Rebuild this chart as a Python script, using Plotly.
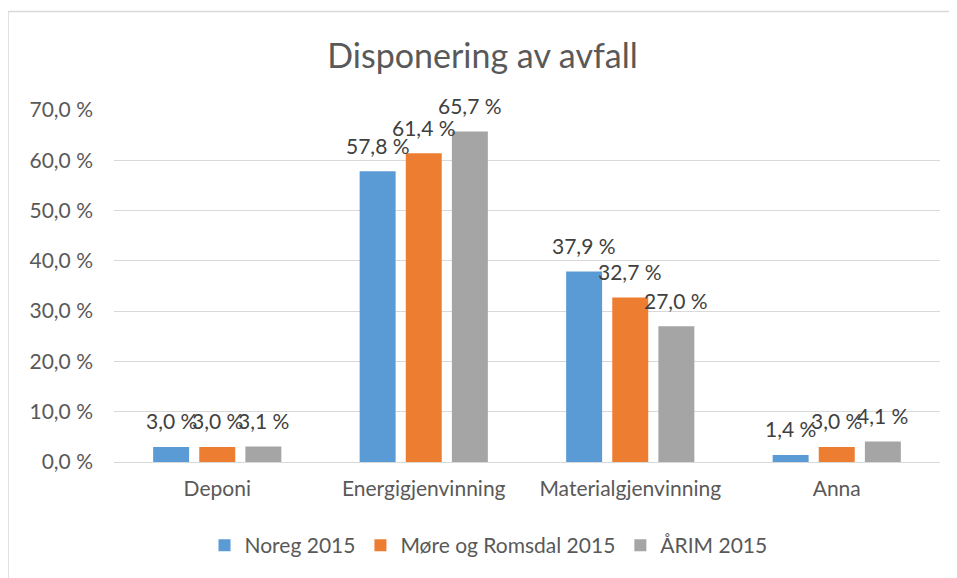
import plotly.graph_objects as go

categories = ["Deponi", "Energigjenvinning", "Materialgjenvinning", "Anna"]
series_names = ["Noreg 2015", "Møre og Romsdal 2015", "ÅRIM 2015"]
noreg = [3.0, 57.8, 37.9, 1.4]
more_romsdal = [3.0, 61.4, 32.7, 3.0]
arim = [3.1, 65.7, 27.0, 4.1]
colors = ["#5B9BD5", "#ED7D31", "#A5A5A5"]
tick_vals = [0, 10, 20, 30, 40, 50, 60, 70]
tick_text = ["0,0 %", "10,0 %", "20,0 %", "30,0 %", "40,0 %", "50,0 %", "60,0 %", "70,0 %"]

FONT = "Lato"
# page has 8px body offset
W, H = 949, 570
L, R, T, B = 106, 17, 102, 114
pw, ph = W - L - R, H - T - B
BARGAP, GROUPGAP = 0.33, 0.22
slot = pw / len(categories) * (1 - BARGAP) / len(series_names)

fig = go.Figure()
annotations = []
all_series = [noreg, more_romsdal, arim]
for si, (name, vals, col) in enumerate(zip(series_names, all_series, colors)):
    fig.add_trace(go.Bar(
        x=categories, y=vals, name=name, marker=dict(color=col, line=dict(width=0)),
        cliponaxis=False,
    ))
    for cat, v in zip(categories, vals):
        annotations.append(dict(
            x=cat, y=v, xref="x", yref="y", text=f"{v:.1f} %".replace(".", ","),
            showarrow=False, xanchor="center", yanchor="middle",
            xshift=(si - (len(series_names) - 1) / 2) * slot, yshift=26,
            font=dict(size=21, color="#404040", family=FONT),
        ))

fig.update_layout(
    width=W, height=H,
    margin=dict(l=L, r=R, t=T, b=B),
    paper_bgcolor="white", plot_bgcolor="white",
    barmode="group", bargap=BARGAP, bargroupgap=GROUPGAP,
    title=dict(text="Disponering av avfall", x=0.5, xanchor="center",
               y=1 - 48 / H, yanchor="middle",
               font=dict(size=34, color="#595959", family=FONT)),
    font=dict(family=FONT, color="#595959"),
    xaxis=dict(showgrid=False, ticks="", showline=True, linecolor="#D9D9D9", linewidth=1,
               tickfont=dict(size=21, color="#595959"), ticklabelstandoff=8),
    yaxis=dict(range=[0, 70], tickvals=tick_vals, ticktext=tick_text,
               showgrid=True, gridcolor="#D9D9D9", gridwidth=1, zeroline=False,
               tickfont=dict(size=21, color="#595959"), ticks="", ticklabelstandoff=20),
    legend=dict(orientation="h", x=(480.5 - L) / pw, xanchor="center", y=-(540 - 456) / ph,
                yanchor="middle", font=dict(size=21, color="#595959"), traceorder="normal"),
    annotations=annotations,
    shapes=[
        dict(type="line", xref="paper", yref="paper", x0=-L / pw, x1=(W + 5 - L) / pw,
             y0=(H - B - 3) / ph, y1=(H - B - 3) / ph, line=dict(color="#D9D9D9", width=1.5)),
        dict(type="line", xref="paper", yref="paper", x0=-L / pw, x1=-L / pw,
             y0=(H - B - 3) / ph, y1=-(B + 5) / ph, line=dict(color="#D9D9D9", width=1.5)),
    ],
)
fig.write_html("out.html")
